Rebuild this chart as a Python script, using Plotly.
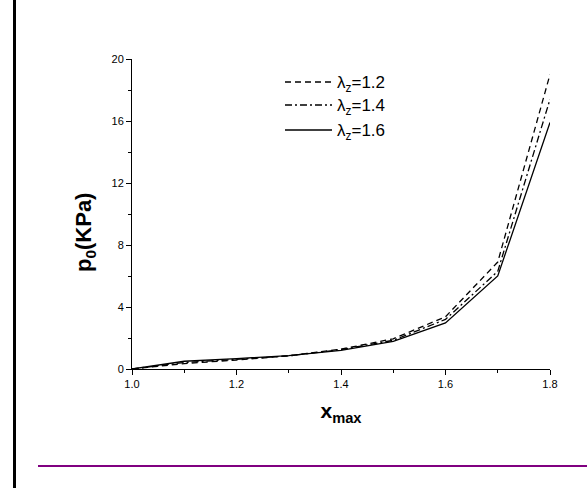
import plotly.graph_objects as go

# Data
x_max = [1.0, 1.1, 1.2, 1.3, 1.4, 1.5, 1.6, 1.7, 1.8]
p0_lz12 = [0.0, 0.35, 0.58, 0.85, 1.28, 1.95, 3.37, 6.9, 19.0]
p0_lz14 = [0.0, 0.42, 0.62, 0.85, 1.25, 1.85, 3.2, 6.3, 17.4]
p0_lz16 = [0.0, 0.50, 0.67, 0.86, 1.20, 1.78, 2.97, 6.0, 15.9]
series_names = ["λ<sub>z</sub>=1.2", "λ<sub>z</sub>=1.4", "λ<sub>z</sub>=1.6"]
x_ticks = [1.0, 1.2, 1.4, 1.6, 1.8]
x_ticktext = ["1.0", "1.2", "1.4", "1.6", "1.8"]
y_ticks = [0, 4, 8, 12, 16, 20]

FONT = "Liberation Sans, Arial, sans-serif"
dashes = ["6px,4px", "7px,3px,2px,3px", "solid"]

fig = go.Figure()
for name, dash, vals in zip(series_names, dashes, [p0_lz12, p0_lz14, p0_lz16]):
    fig.add_trace(go.Scatter(
        x=x_max, y=vals, mode="lines", name=name,
        line=dict(color="black", width=1.3, dash=dash),
    ))

# Hand-drawn legend (longer line samples, as in the reference)
legend_rows = [0.9258, 0.8516, 0.771]
shapes = []
annotations = []
for name, dash, yr in zip(series_names, dashes, legend_rows):
    shapes.append(dict(type="line", xref="paper", yref="paper",
                       x0=0.366, x1=0.4785, y0=yr, y1=yr,
                       line=dict(color="black", width=1.3, dash=dash)))
    annotations.append(dict(xref="paper", yref="paper", x=0.4856, y=yr,
                            xanchor="left", yanchor="middle", yshift=-2,
                            text=name, showarrow=False,
                            font=dict(size=17, family=FONT, color="black")))

# y axis title placed a bit lower than centre, as in the reference
annotations.append(dict(xref="paper", yref="paper", x=-0.1124, y=0.4387,
                        xanchor="center", yanchor="middle", textangle=-90,
                        text="<b>p<sub>0</sub>(KPa)</b>", showarrow=False,
                        font=dict(size=22, family=FONT, color="black")))

shapes += [
    # black vertical border line on the far left
    dict(type="rect", xref="paper", yref="paper", xsizemode="pixel", ysizemode="pixel",
         xanchor=0, yanchor=0, x0=-119, x1=-116, y0=-125, y1=375,
         fillcolor="black", line=dict(width=0), layer="above"),
    # purple horizontal rule near the bottom
    dict(type="rect", xref="paper", yref="paper", xsizemode="pixel", ysizemode="pixel",
         xanchor=0, yanchor=0, x0=-94, x1=460, y0=-98, y1=-96,
         fillcolor="#800080", line=dict(width=0), layer="above"),
]

fig.update_layout(
    width=587, height=488,
    margin=dict(l=132, r=37, t=59, b=119),
    paper_bgcolor="white", plot_bgcolor="white",
    font=dict(family=FONT, color="black", size=11),
    showlegend=False,
    xaxis=dict(
        range=[1.0, 1.8], tickvals=x_ticks, ticktext=x_ticktext,
        showgrid=False, zeroline=False, showline=True, linecolor="black", linewidth=1,
        ticks="outside", ticklen=5, tickwidth=1, tickcolor="black",
        minor=dict(dtick=0.1, tick0=1.0, ticks="outside", ticklen=3, tickwidth=1, tickcolor="black", showgrid=False),
        tickfont=dict(size=11),
        title=dict(text="<b>x<sub>max</sub></b>", font=dict(size=21, family=FONT), standoff=14),
    ),
    yaxis=dict(
        range=[0, 20], tickvals=y_ticks,
        showgrid=False, zeroline=False, showline=True, linecolor="black", linewidth=1,
        ticks="outside", ticklen=5, tickwidth=1, tickcolor="black",
        minor=dict(dtick=2, tick0=0, ticks="outside", ticklen=3, tickwidth=1, tickcolor="black", showgrid=False),
        tickfont=dict(size=11),
    ),
    shapes=shapes,
    annotations=annotations,
)

fig.write_html("out.html")
